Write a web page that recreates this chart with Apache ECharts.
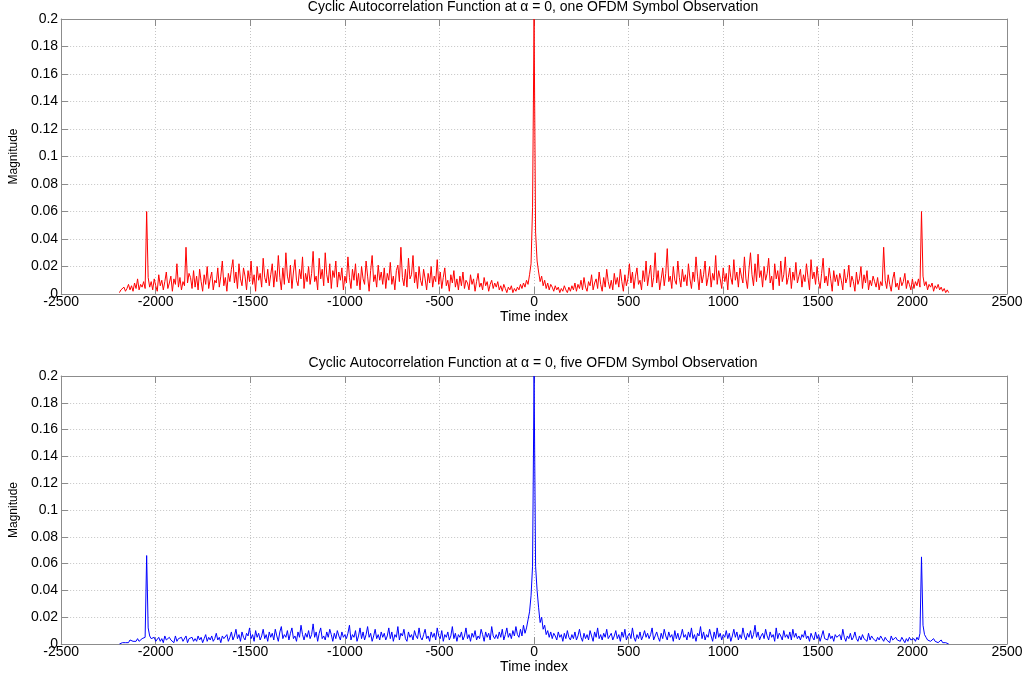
<!DOCTYPE html>
<html>
<head>
<meta charset="utf-8">
<script src="https://cdn.jsdelivr.net/npm/echarts@6/dist/echarts.min.js"></script>
<style>
html,body{margin:0;padding:0;background:#fff;}
#chart{width:1028px;height:677px;}
</style>
</head>
<body>
<div id="chart"></div>
<script>
// Time index sampling of the read-off values
const timeStart = -2192;
const timeStep = 8;

// |R_x^0(tau)| for one OFDM symbol, in units of 1e-3
const oneSymbolMilli = [
  1,3,2,5,2,4,7,3,6,2,8,4,11,3,7,5,9,4,60,12,5,9,3,11,6,
  2,14,6,10,3,9,16,4,8,13,2,11,7,22,5,12,3,9,6,34,8,15,12,4,17,
  5,13,3,18,9,2,14,7,20,4,11,16,3,10,8,19,5,13,24,6,12,2,15,9,18,
  25,8,16,4,22,11,6,19,13,3,17,9,24,7,14,2,20,10,15,5,26,12,8,18,6,
  14,22,5,17,9,28,12,3,19,7,30,13,8,21,4,16,25,10,6,18,11,27,4,15,9,
  20,7,15,31,9,13,3,26,11,18,6,30,14,8,22,4,17,12,24,5,16,10,19,3,13,
  8,27,12,4,18,10,22,6,15,3,20,11,7,24,13,2,17,28,9,14,5,21,10,16,7,
  19,4,15,10,23,7,13,3,17,21,9,34,12,6,18,5,26,11,14,28,8,16,4,20,10,
  6,18,11,3,15,8,20,5,13,9,25,7,16,4,12,19,6,10,2,14,8,17,5,11,3,
  13,6,16,4,10,8,3,14,7,11,2,9,15,5,8,3,12,6,9,2,7,10,4,8,5,
  9,3,6,2,7,4,1,5,3,6,1,4,2,5,3,7,4,8,5,10,7,14,22,63,200,
  45,24,16,9,13,6,10,4,8,3,7,5,2,6,3,5,1,4,2,6,3,1,5,2,6,
  3,8,2,7,4,10,3,12,5,2,9,6,14,3,8,11,4,16,7,2,12,5,18,9,4,
  10,3,15,7,12,5,18,9,2,14,6,11,22,8,16,4,13,19,7,10,3,17,9,24,6,
  14,21,5,12,30,8,17,3,11,19,6,15,33,9,13,4,20,10,7,24,12,5,18,9,14,
  6,22,11,4,16,9,27,13,3,18,8,14,24,6,12,20,5,15,10,28,7,17,11,4,19,
  9,15,3,21,12,7,25,10,16,5,19,13,8,27,11,4,18,30,14,6,22,9,29,12,17,
  5,20,10,15,26,8,13,3,22,11,17,6,24,9,14,27,7,12,19,4,16,10,23,8,13,
  18,5,14,9,22,12,3,25,11,16,7,20,10,4,15,26,8,13,6,19,11,2,17,9,14,
  6,15,10,3,18,8,12,21,5,13,9,2,16,7,11,20,4,14,8,17,3,10,6,13,9,
  5,12,3,9,6,34,10,4,14,7,2,11,16,5,8,3,12,6,9,15,4,10,7,3,11,
  4,9,6,11,5,60,13,6,9,3,7,5,8,2,6,4,7,3,5,2,4,1,3,1
];

// |R_x^0(tau)| for five OFDM symbols, in units of 1e-3
const fiveSymbolMilli = [
  0,1,1,2,1,2,1,3,2,2,3,2,4,2,3,4,3,5,66,12,6,4,3,5,2,
  3,5,2,4,1,6,3,2,5,3,4,1,6,2,4,3,5,2,3,6,1,4,3,5,2,
  4,2,6,3,5,1,4,7,2,5,3,6,2,4,8,3,5,1,6,4,3,7,2,5,9,
  3,6,11,4,7,2,9,5,3,8,6,12,4,7,2,10,5,8,3,6,11,4,7,2,9,
  5,8,3,11,6,2,9,13,4,7,5,10,3,8,12,4,6,2,9,5,14,7,3,8,5,
  10,4,7,15,5,9,2,8,12,4,6,3,9,5,11,7,2,8,4,10,6,3,9,5,7,
  4,8,14,3,7,5,10,2,6,12,4,9,3,7,13,5,8,2,6,11,4,7,3,9,5,
  8,3,6,12,4,9,2,7,5,13,3,8,6,11,4,2,9,5,7,3,10,6,4,12,5,
  3,7,11,4,6,2,9,5,8,3,12,6,4,10,2,7,5,9,3,6,13,4,8,2,7,
  5,9,3,6,12,4,7,2,8,5,10,3,6,4,11,7,2,9,5,8,3,13,6,4,7,
  4,9,5,11,3,7,12,5,8,4,10,6,13,7,5,11,6,14,8,12,18,24,36,58,200,
  58,40,27,16,20,11,14,7,10,5,9,4,8,6,3,9,5,7,2,8,4,10,5,3,7,
  4,9,3,6,11,5,2,8,4,7,3,10,6,2,9,5,12,4,7,3,8,5,11,4,6,
  8,3,6,10,4,7,2,9,5,11,3,6,8,4,12,5,2,7,4,9,3,6,10,5,8,
  4,7,12,3,6,9,5,2,8,4,11,6,3,9,5,7,2,10,4,8,3,6,11,5,7,
  3,9,5,12,4,7,2,8,6,13,4,9,3,7,5,11,6,2,9,4,12,5,8,3,7,
  5,10,4,8,2,6,11,5,9,3,7,4,12,6,3,8,5,10,4,7,14,5,9,3,6,
  8,4,11,6,3,9,5,7,2,12,4,8,6,3,10,5,7,4,9,3,11,5,8,4,6,
  3,7,5,10,4,6,2,8,5,3,9,4,7,2,6,10,4,5,3,8,4,6,2,7,5,
  4,7,3,11,5,2,6,4,8,3,5,9,4,2,6,3,7,4,5,2,8,3,6,4,5,
  2,5,3,6,4,2,5,3,4,1,6,3,2,5,3,4,2,5,3,1,4,2,5,3,2,
  4,2,5,3,8,65,14,7,5,3,4,2,3,4,2,3,1,2,3,1,2,1,1,0
];

const titles = [
  'Cyclic Autocorrelation Function at \u03b1 = 0, one OFDM Symbol Observation',
  'Cyclic Autocorrelation Function at \u03b1 = 0, five OFDM Symbol Observation'
];
const xLabel = 'Time index';
const yLabel = 'Magnitude';
const xRange = [-2500, 2500];
const xInterval = 500;
const yRange = [0, 0.2];
const yInterval = 0.02;

function toPairs(milli) {
  return milli.map((v, i) => [timeStart + i * timeStep, v / 1000]);
}

const chart = echarts.init(document.getElementById('chart'), null, {renderer: 'canvas'});
const FONT = 'Liberation Sans, Arial, Helvetica, sans-serif';
const boxColor = '#8c8c8c';
const gridColor = '#c4c4c4';

const grids = [
  {left: 61, top: 19, width: 946, height: 275},
  {left: 61, top: 376, width: 946, height: 268}
];

const xAxes = [], yAxes = [];
grids.forEach((g, gi) => {
  xAxes.push({
    gridIndex: gi, type: 'value', position: 'bottom',
    min: xRange[0], max: xRange[1], interval: xInterval,
    name: xLabel, nameLocation: 'middle', nameGap: 13,
    nameTextStyle: {color: '#000', fontSize: 14, fontFamily: FONT},
    axisLine: {show: true, onZero: false, lineStyle: {color: boxColor, width: 1}},
    axisTick: {show: true, inside: true, length: 7, lineStyle: {color: boxColor}},
    axisLabel: {color: '#000', fontSize: 14, fontFamily: FONT, margin: 1,
                formatter: v => String(v)},
    splitLine: {show: true, lineStyle: {color: gridColor, type: [1, 2], width: 1}}
  });
  xAxes.push({
    gridIndex: gi, type: 'value', position: 'top',
    min: xRange[0], max: xRange[1], interval: xInterval,
    axisLine: {show: true, onZero: false, lineStyle: {color: boxColor, width: 1}},
    axisTick: {show: true, inside: true, length: 7, lineStyle: {color: boxColor}},
    axisLabel: {show: false}, splitLine: {show: false}
  });
  yAxes.push({
    gridIndex: gi, type: 'value', position: 'left',
    min: yRange[0], max: yRange[1], interval: yInterval,
    name: yLabel, nameLocation: 'middle', nameGap: 38, nameRotate: 90,
    nameTextStyle: {color: '#000', fontSize: 12, fontFamily: FONT},
    axisLine: {show: true, onZero: false, lineStyle: {color: boxColor, width: 1}},
    axisTick: {show: true, inside: true, length: 7, lineStyle: {color: boxColor}},
    axisLabel: {color: '#000', fontSize: 14, fontFamily: FONT, margin: 3},
    splitLine: {show: true, lineStyle: {color: gridColor, type: [1, 2], width: 1}}
  });
  yAxes.push({
    gridIndex: gi, type: 'value', position: 'right',
    min: yRange[0], max: yRange[1], interval: yInterval,
    axisLine: {show: true, onZero: false, lineStyle: {color: boxColor, width: 1}},
    axisTick: {show: true, inside: true, length: 7, lineStyle: {color: boxColor}},
    axisLabel: {show: false}, splitLine: {show: false}
  });
});

chart.setOption({
  animation: false,
  backgroundColor: '#fff',
  title: [
    {text: titles[0], left: 533, top: 0, textAlign: 'center', padding: 0,
     textStyle: {fontSize: 14, fontWeight: 'normal', color: '#000', fontFamily: FONT}},
    {text: titles[1], left: 533, top: 356, textAlign: 'center', padding: 0,
     textStyle: {fontSize: 14, fontWeight: 'normal', color: '#000', fontFamily: FONT}}
  ],
  grid: grids,
  xAxis: xAxes,
  yAxis: yAxes,
  series: [
    {type: 'line', xAxisIndex: 0, yAxisIndex: 0, data: toPairs(oneSymbolMilli),
     showSymbol: false, symbol: 'none', lineStyle: {color: '#ff0000', width: 1}, itemStyle: {color: '#ff0000'}},
    {type: 'line', xAxisIndex: 2, yAxisIndex: 2, data: toPairs(fiveSymbolMilli),
     showSymbol: false, symbol: 'none', lineStyle: {color: '#0000ff', width: 1}, itemStyle: {color: '#0000ff'}}
  ]
});
</script>
</body>
</html>
